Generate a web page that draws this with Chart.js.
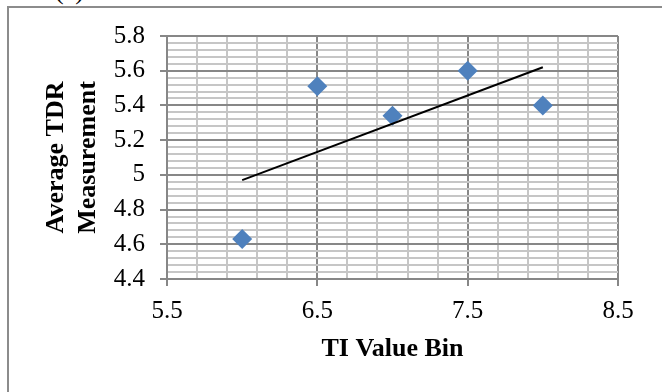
<!DOCTYPE html>
<html>
<head>
<meta charset="utf-8">
<script src="https://cdn.jsdelivr.net/npm/chart.js@4.4.1/dist/chart.umd.min.js"></script>
<style>
  html, body { margin: 0; padding: 0; background: #fff; }
  #wrap { position: relative; width: 662px; height: 392px; overflow: hidden; }
  #frame { position: absolute; left: 7px; top: 6px; width: 700px; height: 500px;
           border-left: 2px solid #8c8c8c; border-top: 2px solid #8c8c8c; }
  #tag { position: absolute; left: 55px; top: -22px; font: 26px/26px "Liberation Serif", serif; color: #000; }
  #chart { position: absolute; left: 0; top: 0; }
</style>
</head>
<body>
<div id="wrap">
  <div id="frame"></div>
  <span id="tag">(a)</span>
  <canvas id="chart" width="662" height="392"></canvas>
</div>
<script>
// valores
const tiBins = [6, 6.5, 7, 7.5, 8];
const avgTdr = [4.63, 5.51, 5.34, 5.60, 5.40];

// línea de tendencia (extremos leídos)
const trendX = [6, 8];
const trendY = [4.97, 5.62];

const xTitle = "TI Value Bin";
const yTitle = ["Average TDR", "Measurement"];

const serif = "'Liberation Serif', 'Times New Roman', serif";
Chart.defaults.font.family = serif;
Chart.defaults.color = "#000";

const majorLine = "#878787";
const minorLine = "#c6c6c6";

// marcas principales: x cada 1 desde 5.5, y cada 0.2
const isMajorX = (v) => Math.abs((v - 5.5) - Math.round(v - 5.5)) < 1e-6;
const isMajorY = (v) => Math.abs(v * 5 - Math.round(v * 5)) < 1e-6;

const ctx = document.getElementById("chart").getContext("2d");
new Chart(ctx, {
  type: "scatter",
  data: {
    datasets: [
      {
        label: "TDR",
        data: tiBins.map((x, i) => ({ x: x, y: avgTdr[i] })),
        pointStyle: "rectRot",
        pointRadius: 10,
        pointHoverRadius: 10,
        backgroundColor: "#4f81bd",
        borderColor: "#4f81bd",
        borderWidth: 0,
        order: 2,
      },
      {
        label: "Trend",
        data: trendX.map((x, i) => ({ x: x, y: trendY[i] })),
        showLine: true,
        pointRadius: 0,
        borderColor: "#000",
        borderWidth: 2,
        order: 1,
      },
    ],
  },
  options: {
    responsive: false,
    animation: false,
    layout: { padding: { top: 36, right: 44, left: 0, bottom: 0 } },
    plugins: { legend: { display: false }, tooltip: { enabled: false } },
    scales: {
      x: {
        type: "linear",
        min: 5.5,
        max: 8.5,
        afterFit: (s) => { s.height = 113; },
        ticks: {
          stepSize: 0.2,
          autoSkip: false,
          maxRotation: 0,
          padding: 10,
          font: { size: 25 },
          callback: (v) => (isMajorX(v) ? String(Math.round(v * 10) / 10) : ""),
        },
        grid: {
          color: (c) => (isMajorX(c.tick.value) ? majorLine : minorLine),
          lineWidth: 2,
          tickColor: (c) => (isMajorX(c.tick.value) ? majorLine : "rgba(0,0,0,0)"),
          tickLength: 7,
        },
        border: { color: majorLine, width: 2 },
        title: {
          display: true,
          text: xTitle,
          font: { size: 26, weight: "bold" },
          padding: { top: 0, bottom: 27 },
        },
      },
      y: {
        type: "linear",
        min: 4.4,
        max: 5.8,
        afterFit: (s) => { s.width = 167; },
        ticks: {
          stepSize: 0.04,
          autoSkip: false,
          padding: 15,
          font: { size: 25 },
          callback: (v) => (isMajorY(v) ? String(Math.round(v * 10) / 10) : ""),
        },
        grid: {
          color: (c) => (isMajorY(c.tick.value) ? majorLine : minorLine),
          lineWidth: 2,
          tickColor: (c) => (isMajorY(c.tick.value) ? majorLine : "rgba(0,0,0,0)"),
          tickLength: 7,
        },
        border: { color: majorLine, width: 2 },
        title: {
          display: true,
          text: yTitle,
          font: { size: 26, weight: "bold" },
          padding: { top: 41, bottom: 0 },
        },
      },
    },
  },
});
</script>
</body>
</html>
